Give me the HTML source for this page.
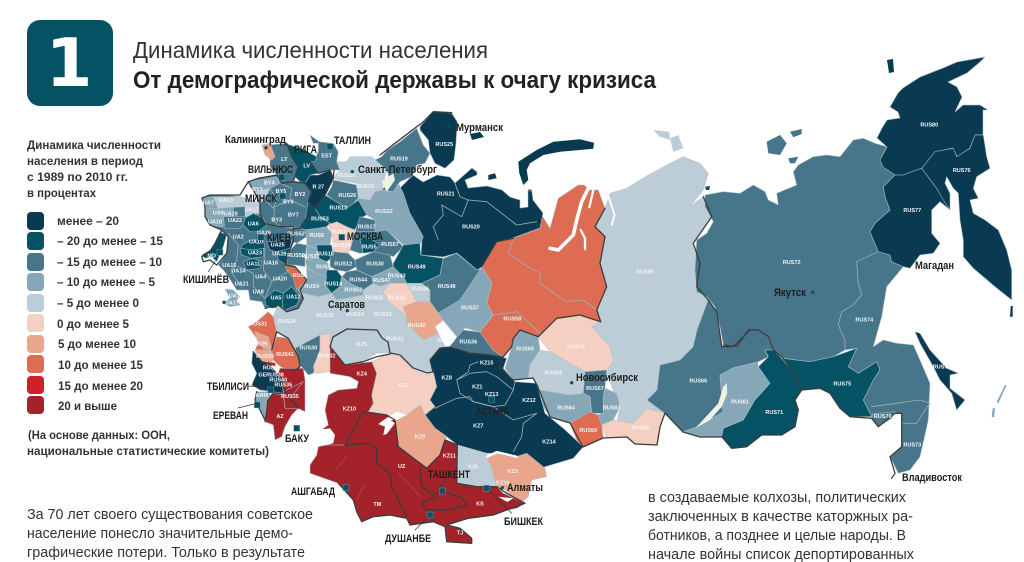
<!DOCTYPE html>
<html lang="ru">
<head>
<meta charset="utf-8">
<title>Динамика численности населения</title>
<style>
html,body{margin:0;padding:0;background:#fff;}
#page{position:relative;width:1024px;height:562px;overflow:hidden;background:#fff;font-family:"Liberation Sans","DejaVu Sans",sans-serif;}
svg{position:absolute;left:0;top:0;}
text{font-family:"Liberation Sans","DejaVu Sans",sans-serif;}
.city{font-weight:bold;font-size:11px;fill:#1d1d1b;}
.leg{font-weight:bold;font-size:11.5px;fill:#333;}
.para{font-size:15px;fill:#333;}
</style>
</head>
<body>
<div id="page">
<svg width="1024" height="562" viewBox="0 0 1024 562">
  <g id="map"></g>

  <g>
    <rect x="27" y="20" width="86" height="86" rx="13" fill="#055264"/>
    <text x="69" y="86" text-anchor="middle" font-size="67" font-weight="bold" fill="#fff" style="font-family:'DejaVu Sans',sans-serif">1</text>
    <text x="133" y="58" font-size="23" fill="#333" textLength="355" lengthAdjust="spacingAndGlyphs">Динамика численности населения</text>
    <text x="133" y="88" font-size="24" font-weight="bold" fill="#222" textLength="523" lengthAdjust="spacingAndGlyphs">От демографической державы к очагу кризиса</text>
  </g>

  <g>
    <text class="leg" x="27" y="149" textLength="134" lengthAdjust="spacingAndGlyphs">Динамика численности</text>
    <text class="leg" x="27" y="165" textLength="116" lengthAdjust="spacingAndGlyphs">населения в период</text>
    <text class="leg" x="27" y="181" textLength="101" lengthAdjust="spacingAndGlyphs">с 1989 по 2010 гг.</text>
    <text class="leg" x="27" y="197" textLength="69" lengthAdjust="spacingAndGlyphs">в процентах</text>

    <rect x="27" y="212" width="17" height="18" rx="4" fill="#0a3a52"/>
    <text class="leg" x="57" y="225" textLength="62" lengthAdjust="spacingAndGlyphs">менее – 20</text>
    <rect x="27" y="232" width="17" height="18" rx="4" fill="#055264"/>
    <text class="leg" x="57" y="245" textLength="106" lengthAdjust="spacingAndGlyphs">– 20 до менее – 15</text>
    <rect x="27" y="253" width="17" height="18" rx="4" fill="#47758a"/>
    <text class="leg" x="57" y="266" textLength="105" lengthAdjust="spacingAndGlyphs">– 15 до менее – 10</text>
    <rect x="27" y="273" width="17" height="18" rx="4" fill="#86a7b8"/>
    <text class="leg" x="57" y="286" textLength="98" lengthAdjust="spacingAndGlyphs">– 10 до менее – 5</text>
    <rect x="27" y="294" width="17" height="18" rx="4" fill="#bccdd7"/>
    <text class="leg" x="57" y="307" textLength="82" lengthAdjust="spacingAndGlyphs">– 5 до менее 0</text>
    <rect x="27" y="314" width="17" height="18" rx="4" fill="#f4cfc2"/>
    <text class="leg" x="57" y="328" textLength="72" lengthAdjust="spacingAndGlyphs">0 до менее 5</text>
    <rect x="27" y="335" width="17" height="18" rx="4" fill="#eaa58d"/>
    <text class="leg" x="58" y="348" textLength="78" lengthAdjust="spacingAndGlyphs">5 до менее 10</text>
    <rect x="27" y="355" width="17" height="18" rx="4" fill="#dd6c52"/>
    <text class="leg" x="58" y="369" textLength="85" lengthAdjust="spacingAndGlyphs">10 до менее 15</text>
    <rect x="27" y="376" width="17" height="18" rx="4" fill="#cf2027"/>
    <text class="leg" x="58" y="390" textLength="85" lengthAdjust="spacingAndGlyphs">15 до менее 20</text>
    <rect x="27" y="396" width="17" height="18" rx="4" fill="#a4222a"/>
    <text class="leg" x="58" y="410" textLength="59" lengthAdjust="spacingAndGlyphs">20 и выше</text>

    <text class="leg" x="28" y="439" textLength="142" lengthAdjust="spacingAndGlyphs">(На основе данных: ООН,</text>
    <text class="leg" x="27" y="455" textLength="242" lengthAdjust="spacingAndGlyphs">национальные статистические комитеты)</text>
  </g>

  <g>
    <text class="para" x="27" y="519" textLength="286" lengthAdjust="spacingAndGlyphs">За 70 лет своего существования советское</text>
    <text class="para" x="27" y="538" textLength="266" lengthAdjust="spacingAndGlyphs">население понесло значительные демо-</text>
    <text class="para" x="27" y="557" textLength="278" lengthAdjust="spacingAndGlyphs">графические потери. Только в результате</text>
  </g>
  <g>
    <text class="para" x="648" y="502" textLength="258" lengthAdjust="spacingAndGlyphs">в создаваемые колхозы, политических</text>
    <text class="para" x="648" y="521" textLength="265" lengthAdjust="spacingAndGlyphs">заключенных в качестве каторжных ра-</text>
    <text class="para" x="648" y="540" textLength="258" lengthAdjust="spacingAndGlyphs">ботников, а позднее и целые народы. В</text>
    <text class="para" x="648" y="559" textLength="266" lengthAdjust="spacingAndGlyphs">начале войны список депортированных</text>
  </g>

  <g>
    <text class="city" x="225" y="143" textLength="61" lengthAdjust="spacingAndGlyphs">Калининград</text>
    <text class="city" x="294" y="153" textLength="23" lengthAdjust="spacingAndGlyphs">РИГА</text>
    <text class="city" x="334" y="144" textLength="37" lengthAdjust="spacingAndGlyphs">ТАЛЛИН</text>
    <text class="city" x="358" y="173" textLength="79" lengthAdjust="spacingAndGlyphs">Санкт-Петербург</text>
    <text class="city" x="248" y="173" textLength="45" lengthAdjust="spacingAndGlyphs">ВИЛЬНЮС</text>
    <text class="city" x="245" y="202" textLength="32" lengthAdjust="spacingAndGlyphs">МИНСК</text>
    <text class="city" x="267" y="241" textLength="24" lengthAdjust="spacingAndGlyphs">КИЕВ</text>
    <text class="city" x="347" y="240" textLength="36" lengthAdjust="spacingAndGlyphs">МОСКВА</text>
    <text class="city" x="456" y="131" textLength="47" lengthAdjust="spacingAndGlyphs">Мурманск</text>
    <text class="city" x="183" y="283" textLength="46" lengthAdjust="spacingAndGlyphs">КИШИНЁВ</text>
    <text class="city" x="328" y="308" textLength="37" lengthAdjust="spacingAndGlyphs">Саратов</text>
    <text class="city" x="207" y="390" textLength="42" lengthAdjust="spacingAndGlyphs">ТБИЛИСИ</text>
    <text class="city" x="213" y="419" textLength="35" lengthAdjust="spacingAndGlyphs">ЕРЕВАН</text>
    <text class="city" x="285" y="442" textLength="24" lengthAdjust="spacingAndGlyphs">БАКУ</text>
    <text class="city" x="291" y="495" textLength="44" lengthAdjust="spacingAndGlyphs">АШГАБАД</text>
    <text class="city" x="428" y="478" textLength="42" lengthAdjust="spacingAndGlyphs">ТАШКЕНТ</text>
    <text class="city" x="507" y="491" textLength="36" lengthAdjust="spacingAndGlyphs">Алматы</text>
    <text class="city" x="476" y="415" textLength="33" lengthAdjust="spacingAndGlyphs" style="fill:#222">АСТАНА</text>
    <text class="city" x="504" y="525" textLength="39" lengthAdjust="spacingAndGlyphs">БИШКЕК</text>
    <text class="city" x="385" y="542" textLength="46" lengthAdjust="spacingAndGlyphs">ДУШАНБЕ</text>
    <text class="city" x="576" y="381" textLength="62" lengthAdjust="spacingAndGlyphs">Новосибирск</text>
    <text class="city" x="774" y="296" textLength="32" lengthAdjust="spacingAndGlyphs">Якутск</text>
    <text class="city" x="915" y="269" textLength="39" lengthAdjust="spacingAndGlyphs">Магадан</text>
    <text class="city" x="902" y="481" textLength="60" lengthAdjust="spacingAndGlyphs">Владивосток</text>
  </g>
</svg>
</div>

<script>
// ---- chart data (percent change 1989-2010) ----
const bucketLimits = [-20, -15, -10, -5, 0, 5, 10, 15, 20];
const regionIds = [
 'RUS65','RUS72','RUS66','RUS61','RUS71','RUS74','RUS75','RUS79','RUS77','RUS80','RUS76','RUS78',
 'RUS38','RUS70','RUS69','RUS68','RUS67','RUS63','RUS64','RUS60','RUS62',
 'RUS21','RUS25','RUS19','RUS20','RUS22','RUS26','RUS23','R27','EST','LV','LT','KGD',
 'BY','BY4','BY1','UA','UA7','UA13','UA17','UA9','UA19','UA22','UA6','UA10','UA23','UA11','UA25','UA18','UA5','UA12','UA1','MD',
 'RUS-south','RUS53','RUS52','RUS6','MOS','RUS17','RUS57','RUS5','RUS1','RUS50','RUS51','RUS15','RUS9','RUS12','RUS30','RUS49',
 'RUS14','RUS4','RUS44','RUS52b','RUS47','RUS55','RUS46','RUS48','RUS45','RUS42','RUS37','RUS56',
 'RUS31','RUS29','RUS41','RUS39','RUS40','RUS35','RUS34','GE','ARM','AZ','RUS30b','RUS32',
 'KZ5','KZ2','KZ4','KZ-east','KZ9','KZ6','KZ3','RED-south'
];
const regionValues = [
 -3,-11,-12,-8,-16,-12,-17,-12,-45,-40,-30,-28,
 12,3,-8,-3,-12,-7,-8,11,2,
 -22,-25,-13,-3,-8,-12,-18,-22,-14,-20,-13,6,
 -12,-8,-3,-12,-7,-3,-4,-8,-8,-12,-17,-17,-17,-17,-22,-17,-17,-17,-7,-17,
 -3,-17,-12,-8,3,-12,-12,-17,12,-12,-8,-17,-8,-12,-12,-17,
 -17,-8,-12,-8,-8,-3,-3,-12,2,7,-8,-12,
 12,7,12,7,17,25,25,-22,-8,25,-12,3,
 -3,3,25,-22,7,-3,7,25
];
const legendLabels = ['менее – 20','– 20 до менее – 15','– 15 до менее – 10','– 10 до менее – 5','– 5 до менее 0','0 до менее 5','5 до менее 10','10 до менее 15','15 до менее 20','20 и выше'];
const palette = ['#0a3a52','#055264','#47758a','#86a7b8','#bccdd7','#f4cfc2','#eaa58d','#dd6c52','#cf2027','#a4222a'];

// ---- geometry ----
const frames = {O:[0,0,1],A:[190,120,1/3],B:[230,340,1/3],C:[470,130,1/3],D:[690,60,1/3],E:[380,100,1/3],F:[195,190,1/3],G:[240,320,1/3]};
const regionShapes = {
 RUS65:['C',"405,235 420,190 470,175 535,135 590,105 640,80 690,100 715,130 700,180 660,230 700,200 725,260 670,340 690,400 680,470 715,510 680,600 670,650 630,690 570,705 560,780 530,810 585,850 530,835 490,880 440,880 450,830 430,780 410,730 425,690 420,650 365,590 392,575 380,540 410,470 390,400 405,320 375,290"],
 RUS72:['D',"45,405 100,395 150,400 190,375 225,395 235,420 265,435 260,400 320,375 310,335 325,315 370,290 410,285 450,290 490,240 520,235 555,250 590,260 570,300 580,320 615,345 580,380 585,410 600,450 555,490 540,515 565,575 520,605 500,605 505,670 515,705 490,735 455,755 445,795 465,840 465,870 430,890 360,905 280,895 250,870 235,830 205,810 175,810 140,860 100,855 90,800 75,740 50,710 20,695 15,630 20,540 50,520 70,485 45,440"],
 RUS66:['O',"708,300 717,312 722,347 737,347 748,330 758,330 768,337 773,350 765,350 768,357 758,362 733,368 720,375 723,412 697,427 683,432 663,412 647,400 657,390 660,365 680,360 693,347 697,330"],
 RUS61:['O',"720,375 733,368 758,362 758,367 770,383 755,400 743,420 723,428 722,437 700,437 683,432 697,427 723,412"],
 RUS71:['D',"225,870 250,870 280,900 305,930 320,960 335,990 315,1020 325,1050 315,1100 275,1125 215,1125 170,1160 125,1165 95,1130 100,1105 160,1080 195,1020 240,970 205,920 235,890"],
 RUS74:['D',"500,605 565,575 600,585 605,605 640,620 590,680 575,770 550,860 580,840 620,850 670,855 690,900 720,970 715,1080 690,1190 660,1230 625,1240 600,1190 635,1160 635,1060 615,1060 565,1100 545,1070 520,1020 550,960 570,930 560,905 505,940 475,920 500,865 465,870 465,840 445,795 455,755 490,735 515,705 505,670"],
 RUS75:['D',"275,895 360,905 430,890 500,865 475,920 505,940 560,905 570,930 550,960 520,1020 545,1070 480,1070 450,1045 420,1000 390,985 335,990 320,960 305,930"],
 RUS79:['D',"548,1062 615,1055 605,1075 565,1100 545,1078"],
 RUS77:['D',"580,380 615,345 695,325 740,385 780,450 750,425 725,450 725,520 750,550 730,580 690,585 660,625 640,620 605,605 600,585 565,575 540,515 555,490 600,450 585,410"],
 RUS80:['O',"877,138 887,147 880,160 883,167 895,175 903,175 922,168 935,152 953,148 957,157 970,148 975,135 983,135 983,110 988,110 980,105 963,105 955,112 962,97 957,87 948,82 967,73 980,62 985,57 957,62 943,68 920,77 903,88 898,93 890,107 898,112 900,118 887,120 882,128"],
 RUS76:['D',"695,325 735,275 790,265 800,290 840,265 855,225 880,225 890,290 900,325 860,350 850,385 865,415 840,420 850,460 885,480 925,510 950,570 965,630 965,720 915,680 850,625 820,590 820,540 810,480 805,400 790,385 770,350 765,370 780,400 780,450 760,420 740,385"],
 RUS78:['D',"675,815 690,820 720,870 770,925 805,940 780,945 780,985 825,1020 800,1050 785,1000 750,960 730,920 690,850"],
 RUS38:['C',"215,255 240,295 265,205 325,165 342,165 360,180 385,180 405,235 375,290 405,320 390,400 410,470 380,540 392,575 330,555 260,565 205,620 150,600 130,625 125,650 100,680 50,650 30,605 70,555 50,520 65,460 35,410 80,335 130,325 210,295"],
 RUS70:['C',"260,565 330,555 392,575 365,590 420,650 430,695 410,720 345,725 300,700 240,665 205,620"],
 RUS69:['C',"150,600 205,620 210,660 180,705 175,745 130,750 105,715 125,650 130,625"],
 RUS68:['C',"210,660 240,665 300,700 345,725 340,790 300,795 210,780 190,745 175,745 180,705"],
 RUS67:['C',"345,725 410,720 405,770 400,800 400,850 365,850 360,800 340,790"],
 RUS63:['C',"405,775 440,790 450,830 430,870 395,885 380,855 400,850 400,800"],
 RUS64:['C',"210,780 300,795 340,790 360,800 365,850 300,880 240,860 220,830"],
 RUS60:['C',"300,880 360,845 385,855 395,885 400,925 340,950 320,930"],
 RUS62:['C',"395,885 430,870 490,880 530,835 585,850 570,890 560,945 495,940 470,920 410,925"],
 RUS21:['O',"390,203 400,188 413,175 423,182 437,175 450,177 455,183 472,168 477,172 477,175 465,180 468,188 487,186 502,190 510,197 520,200 520,208 528,207 528,190 532,192 533,200 543,213 540,228 513,238 497,242 482,267 477,270 457,253 443,257 421,255 422,240 400,220"],
 RUS25:['E',"120,80 160,35 215,40 232,65 228,130 222,180 195,205 165,190 150,160 145,120 120,90"],
 RUS19:['A',"575,110 590,92 630,65 680,25 700,75 720,100 705,130 680,135 665,170 630,185 610,215 575,210 600,180 590,150 545,140 555,120"],
 RUS20:['A',"480,110 545,110 590,150 575,210 555,215 540,240 510,240 500,220 500,190 445,180 430,175 450,150 440,125 470,125"],
 RUS22:['A',"505,235 540,240 555,215 575,210 610,215 625,190 640,220 660,280 700,350 690,375 640,375 590,330 555,335 555,300 530,285 500,245"],
 RUS26:['A',"430,180 500,195 505,235 480,260 470,265 430,240 410,225 425,200"],
 RUS23:['A',"405,225 430,240 470,265 505,240 530,285 510,295 500,320 490,335 440,315 420,310 390,290 375,265"],
 R27:['A',"360,165 385,165 420,150 430,175 405,225 375,265 355,245 365,215 345,190"],
 EST:['A',"385,65 430,70 445,95 440,125 450,150 425,150 385,160 360,125 375,115 385,95"],
 LV:['A',"285,70 345,90 380,110 375,125 360,125 385,160 360,165 345,190 330,185 315,170 325,140 305,110"],
 LT:['A',"235,75 290,70 305,110 325,140 315,170 310,185 275,190 260,165 240,140 240,100"],
 KGD:['A',"215,75 240,70 255,110 245,120 225,105"],
 BY:['A',"205,175 260,165 275,190 310,185 330,185 345,190 365,215 355,245 375,265 345,300 330,325 310,320 270,320 220,310 205,275 210,250 195,220 175,185"],
 BY4:['A',"175,185 260,170 270,190 240,205 195,215"],
 BY1:['A',"192,215 240,205 225,240 207,250"],
 UA:['A',"36,234 60,225 110,225 150,230 165,235 205,250 210,280 225,310 270,320 310,325 310,365 295,400 285,435 315,440 350,480 330,510 340,535 325,565 290,575 265,555 225,565 215,545 180,540 175,510 140,510 115,470 100,450 85,435 110,400 115,350 95,330 60,315 45,290 45,260"],
 UA7:['A',"36,234 70,230 85,265 60,270 45,265"],
 UA13:['A',"70,230 150,230 165,260 130,262 85,265"],
 UA17:['A',"150,230 205,250 210,280 165,290 165,260"],
 UA9:['A',"45,265 85,265 100,285 100,322 60,315 45,290"],
 UA19:['A',"85,265 130,262 130,290 100,290"],
 UA22:['A',"100,290 130,290 165,290 165,310 150,325 105,325"],
 UA6:['F',"150,85 175,70 205,85 215,105 190,125 165,125 145,105"],
 UA10:['F',"140,165 170,150 205,150 210,175 175,180 140,180"],
 UA23:['F',"135,175 175,180 205,175 205,200 170,205 140,195"],
 UA11:['F',"145,215 175,205 200,215 195,235 155,240"],
 UA25:['F',"215,155 290,150 285,175 245,185 225,180"],
 UA18:['F',"245,185 285,175 290,190 275,225 250,210"],
 UA5:['F',"210,325 240,300 265,310 262,350 230,355 212,345"],
 UA12:['F',"265,310 290,290 315,320 305,345 270,360 262,350"],
 UA1:['F',"90,297 115,300 135,320 125,330 135,345 105,350 85,340 105,325"],
 MD:['F',"75,125 95,135 85,170 65,215 50,200 30,205 20,195 45,180 60,160"],
 'RUS-south':['O',"278,305 287,312 298,308 303,298 298,290 303,293 318,297 332,293 337,300 363,295 370,302 388,302 407,317 407,323 423,340 438,333 447,350 440,348 430,360 433,372 427,373 413,368 400,355 390,353 388,342 382,338 377,330 347,329 333,337 330,347 330,333 320,335 295,348 288,338 277,332 272,320 273,317"],
 RUS53:['A',"355,245 375,265 390,290 420,310 410,320 385,325 345,330 330,325 345,300"],
 RUS52:['A',"310,320 330,325 345,330 350,350 320,370 310,365"],
 RUS6:['A',"345,330 385,325 410,320 425,340 420,375 375,385 350,375 350,350"],
 MOS:['A',"415,315 440,305 470,320 495,330 480,385 475,400 430,395 430,370 425,340"],
 RUS17:['A',"510,290 555,300 555,335 495,340 500,320"],
 RUS57:['A',"495,335 555,335 590,330 640,380 610,410 550,395 510,400 480,390"],
 RUS5:['A',"510,360 540,355 570,375 550,395 520,400"],
 RUS1:['A',"285,435 310,435 350,480 320,510 310,475 290,450"],
 RUS50:['A',"295,395 320,370 350,375 345,420 345,440 315,435 290,435"],
 RUS51:['A',"350,375 375,385 420,375 430,395 420,410 385,415 350,420"],
 RUS15:['A',"380,375 425,375 430,410 410,425 385,415"],
 RUS9:['A',"345,420 385,415 410,425 420,440 410,470 375,460 350,440"],
 RUS12:['A',"420,410 430,395 475,400 495,420 500,440 470,455 440,450 420,440"],
 RUS30:['A',"495,420 550,395 600,405 610,440 580,455 545,470 500,450"],
 RUS49:['A',"610,430 640,375 690,370 692,405 760,415 750,465 695,490 650,490 640,470 610,445"],
 RUS14:['A',"410,450 440,450 455,470 450,500 425,520 405,495"],
 RUS4:['A',"350,480 350,440 375,460 410,470 405,495 425,520 385,530 340,520 325,510"],
 RUS44:['A',"470,455 500,450 545,470 550,490 520,510 480,490 455,470"],
 'RUS52b':['A',"455,470 480,490 520,510 520,525 440,540 425,520 450,500"],
 RUS47:['A',"545,470 580,455 610,440 640,470 650,490 600,490 570,500 550,490"],
 RUS55:['A',"520,510 550,490 570,500 600,490 580,515 595,545 540,545 520,525"],
 RUS46:['A',"650,490 695,490 720,510 720,545 680,545 660,520"],
 RUS48:['A',"760,415 800,400 860,450 880,445 845,510 810,550 760,590 745,580 720,545 720,510 695,490 750,465"],
 RUS45:['A',"600,490 650,490 680,545 640,560 650,590 595,545 580,515"],
 RUS42:['A',"640,560 680,545 720,545 745,580 760,600 735,620 745,640 700,660 650,610 650,590"],
 RUS37:['O',"482,267 492,283 487,303 493,315 480,332 465,328 457,337 443,320 438,313 460,300 480,270"],
 RUS56:['O',"457,337 463,330 480,332 493,350 503,357 465,352 450,347 447,350"],
 RUS31:['G',"25,20 50,5 85,-25 100,-10 110,35 95,90 45,90 55,70 50,55"],
 RUS29:['G',"45,35 85,50 95,90 70,85 50,55"],
 RUS41:['G',"95,90 110,50 145,55 175,110 180,140 160,155 120,140 100,120"],
 RUS39:['G',"45,90 95,90 100,120 90,130 65,125"],
 RUS40:['G',"80,125 105,128 108,138 85,138"],
 RUS35:['G',"160,145 190,145 195,180 195,275 165,260 130,215 120,180 110,170 120,145"],
 RUS34:['G',"130,215 190,185 150,235 175,265 135,265 130,225"],
 GE:['G',"38,95 65,125 80,130 125,180 130,220 100,215 60,210 35,195 50,160 35,130"],
 ARM:['G',"50,215 85,215 95,235 75,300 60,270 45,240"],
 AZ:['G',"80,240 100,220 130,225 135,265 175,265 155,285 135,320 125,350 105,360 100,315 75,305"],
 RUS30b:['G',"165,85 240,45 240,90 220,160 205,165 180,135 175,110"],
 RUS32:['G',"240,45 270,40 270,95 280,110 270,155 225,160 220,140 240,90"],
 KZ5:['O',"330,347 333,337 347,329 377,330 382,338 388,342 390,353 377,353 363,362 345,365"],
 KZ2:['B',"440,100 425,65 475,42 510,50 550,90 590,105 610,95 620,140 600,180 615,200 585,225 570,195 530,225 495,240 470,225 415,215 430,190 425,165"],
 KZ4:['B',"300,20 345,75 425,65 440,100 425,165 430,190 415,215 400,215 345,315 290,320 280,265 295,255 285,210 295,165 325,150 380,145 385,125 360,110 300,100"],
 'KZ-east':['B',"600,60 630,25 660,20 720,40 780,45 830,55 820,85 855,125 920,130 945,220 1000,265 1060,320 1030,355 930,385 890,340 860,350 810,340 770,340 682,315 650,290 615,265 585,225 615,200 600,180 620,140 610,95"],
 KZ9:['B',"495,240 530,225 570,195 585,225 615,265 650,290 645,305 630,345 590,385 505,320"],
 KZ6:['B',"682,315 770,340 785,385 800,440 740,440 680,430"],
 KZ3:['B',"770,350 810,340 860,350 890,340 945,385 950,410 905,420 895,470 870,490 820,445 800,440 785,385"],
 'RED-south':['B',"400,215 470,225 495,240 505,320 590,385 630,345 645,300 682,315 680,430 740,440 800,440 820,460 885,490 860,505 830,510 790,525 715,535 650,555 690,565 725,595 725,610 650,605 645,560 610,545 540,555 530,535 480,525 430,530 395,545 380,515 370,480 325,430 240,400 240,375 260,345 265,320 290,315 345,315"]
};
const islandShapes = [
 ['E',"415,185 470,150 520,125 600,118 642,128 640,146 600,150 540,155 490,165 450,190 440,210 445,240 430,255 418,220",'#0a3a52'],
 ['E',"325,225 345,220 350,235 325,240",'#0a3a52'],
 ['E',"445,268 455,270 458,295 445,295",'#0a3a52'],
 ['O',"887,60 893,59 894,72 889,73",'#0a3a52'],
 ['C',"550,0 598,5 600,30 570,20",'#bccdd7'],
 ['C',"600,25 625,15 640,55 610,65",'#bccdd7'],
 ['C',"705,170 720,168 718,180 708,180",'#055264'],
 ['D',"230,245 270,225 290,250 270,285 235,280",'#47758a'],
 ['D',"300,215 335,207 335,222 310,232",'#47758a'],
 ['D',"295,295 325,290 315,310 300,310",'#47758a'],
 ['D',"962,738 968,738 968,770 960,770",'#0a3a52'],
 ['D',"945,975 950,975 925,1030 920,1025",'#86a7b8'],
 ['D',"908,1045 915,1045 912,1072 905,1070",'#86a7b8'],
 ['A',"360,45 380,60 400,70 370,70",'#47758a'],
 ['O',"470,134 480,132 484,137 472,140",'#0a3a52']
];
const waterShapes = [
 ['B',"445,252 475,230 500,215 530,225 500,240 482,240 495,250 470,282 460,285 465,260",'#fff'],
 ['B',"280,268 300,265 315,285 310,310 290,315 275,300",'#fff'],
 ['B',"805,470 850,475 832,486",'#fff'],
 ['A',"575,185 610,160 615,180 590,215",'#eef2e6'],
 ['C',"770,760 772,790 755,830 720,870 675,895 690,880 745,820 760,770",'#eef2e6']
];
const waterLines = [
 ['C',"355,175 335,215 320,270 310,315 265,360 240,355",9],
 ['C',"332,300 345,325 345,358",5],
 ['C',"370,180 358,232",5],
 ['C',"412,190 434,255 425,285",4],
 ['B',"772,350 800,336 860,350",5]
];
const thinLines = [
 ['E',"225,250 240,290 265,300 320,305 410,375 470,365"],
 ['E',"185,315 245,350 265,300"],
 ['E',"185,315 190,345 160,380 175,420"],
 ['C',"130,325 115,370 165,405 210,430 210,460 290,515 340,510 380,540"],
 ['C',"70,555 140,545 210,610"],
 ['B',"615,205 680,175 720,170 730,185 790,200 850,240 920,220 880,250 875,290 850,335"],
 ['B',"680,120 715,95 720,75 745,65"],
 ['B',"680,120 720,100 770,95 800,110 850,150 825,195 790,200 730,185 690,160 680,120"],
 ['B',"855,125 850,150"],
 ['D',"545,1040 690,1020 720,1030 705,1050 680,1090 640,1090"],
 ['A',"240,205 260,240 250,265 225,240"],
 ['A',"270,190 305,205 300,240 255,260 250,300 270,320"],
 ['A',"300,240 345,260"],
 ['F',"100,130 130,165 125,210 110,250 140,290"],
 ['F',"210,175 205,240 230,275 210,325"],
 ['F',"130,230 175,250 175,290 210,325"],
 ['F',"230,275 285,240"],
 ['A',"560,475 605,455"]
];
const faintLines = [
 ['B',"350,350 320,385"],['B',"405,430 380,480"],['B',"505,400 545,440 570,470"],['B',"330,20 345,75"]
];
const borderLines = [
 ['A',"432,150 430,175 405,225 375,265 345,300 330,325 310,325 310,365 295,400 285,435 315,440 350,480 330,510 340,535 325,565 290,575 265,555 225,565"],
 ['A',"360,125 385,160 420,150 430,175"],
 ['A',"175,185 205,175 260,165 275,190 310,185 345,190 365,215 355,245 375,265"],
 ['A',"290,70 305,110 325,140 315,170 310,185"],
 ['A',"175,185 195,220 210,250 210,275 220,310 270,320 310,320"],
 ['A',"175,185 150,225 60,225 36,234 45,260 45,290 60,315 95,330 75,370 60,395 35,410 40,425 60,420 80,435 110,400 115,350 95,330"],
 ['E',"0,165 45,130 110,80 125,70 160,35 215,38"],
 ['O',"330,347 333,337 347,329 377,330 382,338 388,342 390,353 400,355 413,368 427,373 433,372 430,360 440,348 450,347 470,353 490,355 503,357 500,368 513,380 533,378 537,385 550,417 570,423 583,447 603,438 627,437 635,444 657,445 660,427 665,413"],
 ['O',"665,413 683,432 700,437 722,437"],
 ['D',"95,1130 125,1165 170,1160 215,1125 275,1125 315,1100 325,1050 315,1020 335,990 390,985 420,1000 450,1045 480,1070 545,1075 565,1100 615,1060 635,1060 635,1160 600,1190 615,1240 605,1255"],
 ['B',"345,75 400,65 440,50 480,42"],
 ['B',"300,20 345,75"],
 ['B',"345,315 400,215 470,225 495,240 505,320 590,385 630,345 645,300 682,315 680,430 740,440 800,440 830,460 885,490 830,510 790,525 715,535 650,555 690,565 725,595 725,610 650,605 645,560 610,545 540,555 530,535 480,525 430,530 395,545 380,515 370,480 325,430"],
 ['B',"345,315 415,310 440,325 440,370 480,400 485,440 530,530"],
 ['B',"570,385 575,440 610,465 630,455 650,460 690,470 715,495 650,510 590,510 575,490 620,470"],
 ['B',"590,510 610,545"],
 ['C',"700,200 725,260 670,340 690,400 680,470 715,510 740,545 755,650 790,650 840,600"],
 ['D',"100,855 140,860 175,810 205,810 235,830 250,870 280,895 305,930 320,960 335,990"],
 ['C',"405,235 375,290 405,320 390,400 410,470 380,540 392,575 330,555 260,565 205,620 150,600 130,625 125,650 100,680"],
 ['C',"35,410 80,335 130,325"],
 ['G',"95,90 110,35 145,55 175,110 180,140 160,155"],
 ['G',"40,95 65,125 85,130 125,180 135,215 175,265"],
 ['G',"50,215 45,240 60,270 75,300"],
 ['G',"130,222 100,218 85,240 75,305"]
];
const regionLabels = [
 ['RUS25','E',193,132],['RUS19','E',57,175],['RUS21','E',197,280],['RUS20','E',273,380],
 ['LT','A',283,117],['LV','A',350,137],['EST','A',410,107],['R 27','A',385,200],['BY4','A',238,188],['BY1','A',202,207],['BY5','A',273,213],['BY2','A',330,222],['BY6','A',295,245],['BY7','A',310,283],['BY3','A',260,298],
 ['UA13','A',108,240],['UA7','A',55,248],['UA17','A',185,268],['UA9','A',85,278],['UA19','A',122,280],['UA18','A',75,305],['UA22','A',135,300],['UA6','A',190,310],['UA26','A',222,338],['UA2','A',145,350],['UA10','A',198,365],['UA25','A',263,373],['UA23','A',195,397],['UA28','A',268,400],['UA11','A',190,430],['UA15','A',118,435],['UA14','A',145,452],['UA16','A',243,427],['UA4','A',212,470],['UA21','A',155,490],['UA8','A',205,515],['UA20','A',270,475],['UA5','A',258,532],['UA12','A',310,530],['UA1','A',133,527],['UA27','A',125,547],['MD','A',65,407],
 ['RUS52','A',318,340],['RUS6','A',380,345],['RUS24','A',525,198],['RUS20','A',470,165],['RUS26','A',472,225],['RUS13','A',445,262],['RUS53','A',390,296],['RUS17','A',530,320],['RUS57','A',600,372],['RUS22','A',582,273],['RUS5','A',538,380],['RUS10','A',455,375],['RUS11','A',450,335],['RUS50','A',318,405],['RUS51','A',362,408],['RUS15','A',405,400],['RUS9','A',400,440],['RUS12','A',460,430],['RUS30','A',555,430],['RUS49','A',680,440],['RUS14','A',430,490],['RUS1','A',330,465],['RUS4','A',365,498],['RUS44','A',505,478],['RUS43','A',620,467],['RUS47','A',575,480],['RUS46','A',690,505],['RUS48','A',770,498],['RUS52','A',490,508],['RUS55','A',553,533],['RUS45','A',620,533],['RUS42','A',680,615],['RUS37','A',840,562],['RUS36','A',835,665],['RUS33','A',405,585],['RUS34','A',290,603],['RUS14','A',495,582],['RUS53','A',578,582],['RUS31','A',615,655],['RUS59','A',768,660],['RUS31','A',205,610],
 ['RUS29','G',55,70],['RUS39','G',75,108],['RUS41','G',135,102],['RUS30','G',205,83],['RUS32','G',260,107],['RUS37','G',95,143],['RUS38','G',105,163],['RUS40','G',115,178],['RUS36','G',130,193],['RUS35','G',150,228],['GE','G',67,163],['ARM','G',65,225],['AZ','G',120,288],
 ['KZ5','B',395,12],['KZ4','B',395,100],['KZ2','B',518,135],['KZ10','B',358,205],['KZ8','B',650,112],['KZ15','B',770,68],['KZ1','B',742,140],['KZ13','B',785,162],['KZ12','B',897,180],['KZ7','B',745,257],['KZ14','B',957,305],['KZ9','B',570,290],['KZ11','B',658,347],['KZ6','B',730,380],['KZ3','B',848,393],['KZ16','B',818,428],['UZ','B',515,378],['TM','B',442,492],['KS','B',750,490],['TJ','B',690,577],
 ['RUS58','C',127,565],['RUS65','C',525,425],['RUS70','C',318,650],['RUS69','C',165,655],['RUS68','C',250,727],['RUS67','C',375,774],['RUS64','C',288,832],['RUS63','C',425,832],['RUS60','C',355,900],['RUS62','C',512,892],['RUS66','C',685,752],
 ['RUS72','D',305,606],['RUS80','D',718,194],['RUS76','D',815,330],['RUS77','D',667,450],['RUS74','D',523,778],['RUS75','D',457,970],['RUS71','D',253,1056],['RUS61','D',150,1025],['RUS79','D',578,1068],['RUS73','D',667,1153],['RUS78','D',755,920]
];
const pinSquares = [['A',420,80],['A',275,172],['A',278,228],['A',213,352],['A',455,352],['F',75,187],['G',92,210],['G',170,325],['G',52,255],['B',348,443],['B',637,453],['B',600,525],['B',770,445],['B',785,178]];
const pinDots = [['A',487,155],['A',472,572],['C',305,758],['D',368,697],['B',817,443],['E',207,80],['A',228,83],['A',102,547]];
const leaderLines = [['O',"249,386 268,388"],['O',"238,408 258,403"],['F',"40,245 60,215"],['B',"625,445 650,420"],['B',"555,570 590,535"],['B',"775,450 845,520"]];

// ---- drawing ----
const SVGNS = 'http://www.w3.org/2000/svg';
const mapGroup = document.getElementById('map');
function px(frame, x, y){
  const f = frames[frame];
  return [(f[0] + x * f[2]).toFixed(1), (f[1] + y * f[2]).toFixed(1)];
}
function pathOf(frame, pts, close){
  const parts = pts.trim().split(/\s+/).map(function(p){
    const xy = p.split(',').map(Number);
    return px(frame, xy[0], xy[1]).join(' ');
  });
  return 'M' + parts.join('L') + (close ? 'Z' : '');
}
function bucketOf(v){
  let i = 0;
  while (i < bucketLimits.length && v >= bucketLimits[i]) i++;
  return i;
}
function addPath(d, fill, stroke, width){
  const el = document.createElementNS(SVGNS, 'path');
  el.setAttribute('d', d);
  el.setAttribute('fill', fill);
  el.setAttribute('stroke', stroke);
  el.setAttribute('stroke-width', width);
  el.setAttribute('stroke-linejoin', 'round');
  el.setAttribute('stroke-linecap', 'round');
  mapGroup.appendChild(el);
  return el;
}
islandShapes.forEach(function(s){
  const el = addPath(pathOf(s[0], s[1], true), s[2], 'none', 0);
  
  
});
regionIds.forEach(function(id, i){
  const s = regionShapes[id];
  const el = addPath(pathOf(s[0], s[1], true), palette[bucketOf(regionValues[i])], 'rgba(178,192,200,.75)', 0.7);
  
  
});
waterShapes.forEach(function(s){
  const el = addPath(pathOf(s[0], s[1], true), s[2], 'none', 0);
  
  
});
waterLines.forEach(function(s){
  const el = addPath(pathOf(s[0], s[1], false), 'none', '#fff', s[2] / 3 + 0.6);
  
  
});
thinLines.forEach(function(s){
  const el = addPath(pathOf(s[0], s[1], false), 'none', '#9fb0ba', 0.8);
  
  
});
faintLines.forEach(function(s){
  const el = addPath(pathOf(s[0], s[1], false), 'none', 'rgba(255,255,255,.22)', 0.6);
  
  
});
borderLines.forEach(function(s){
  const el = addPath(pathOf(s[0], s[1], false), 'none', '#3c3c3c', 1.3);
  
  
});
leaderLines.forEach(function(s){
  const el = addPath(pathOf(s[0], s[1], false), 'none', '#333', 0.7);
  
  
});
regionLabels.forEach(function(l){
  const t = document.createElementNS(SVGNS, 'text');
  const p = px(l[1], l[2], l[3]);
  t.setAttribute('x', p[0]);
  t.setAttribute('y', (+p[1] + 2).toFixed(1));
  t.setAttribute('text-anchor', 'middle');
  t.setAttribute('font-size', '5.5');
  t.setAttribute('font-weight', 'bold');
  t.setAttribute('fill', '#f3f5f5');
  
  
  t.textContent = l[0];
  mapGroup.appendChild(t);
});
pinSquares.forEach(function(s){
  const p = px(s[0], s[1], s[2]);
  const r = document.createElementNS(SVGNS, 'rect');
  r.setAttribute('x', +p[0] - 3);
  r.setAttribute('y', +p[1] - 3);
  r.setAttribute('width', 6);
  r.setAttribute('height', 6);
  r.setAttribute('fill', '#055264');
  r.setAttribute('stroke', '#86a7b8');
  r.setAttribute('stroke-width', 0.4);
  
  
  mapGroup.appendChild(r);
});
pinDots.forEach(function(s){
  const p = px(s[0], s[1], s[2]);
  const c = document.createElementNS(SVGNS, 'circle');
  c.setAttribute('cx', p[0]);
  c.setAttribute('cy', p[1]);
  c.setAttribute('r', 1.7);
  c.setAttribute('fill', '#055264');
  
  
  mapGroup.appendChild(c);
});
</script>
</body>
</html>
